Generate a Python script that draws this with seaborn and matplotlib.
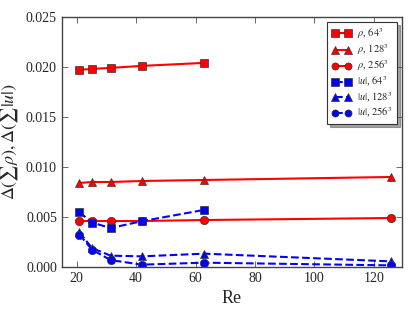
import numpy as np
import pandas as pd
import matplotlib
matplotlib.use("Agg")
import matplotlib.pyplot as plt
import seaborn as sns

# Data
re_all = [20.94, 25.13, 31.42, 41.89, 62.83, 125.66]
re_64 = re_all[:5]

rho_64 = [0.0197, 0.0198, 0.0199, 0.0201, 0.0204]
rho_128 = [0.0084, 0.0085, 0.0085, 0.0086, 0.0087, 0.0090]
rho_256 = [0.0046, 0.0046, 0.0046, 0.0046, 0.0047, 0.0049]
u_64 = [0.00548, 0.00445, 0.0039, 0.00458, 0.00571]
u_128 = [0.00348, 0.0019, 0.00114, 0.00107, 0.00134, 0.00057]
u_256 = [0.00325, 0.00174, 0.0007, 0.00024, 0.00044, 0.00017]

series = [
    (r"$\rho$, $64^3$", re_64, rho_64, "red", "-", "s"),
    (r"$\rho$, $128^3$", re_all, rho_128, "red", "-", "^"),
    (r"$\rho$, $256^3$", re_all, rho_256, "red", "-", "o"),
    (r"$|u|$, $64^3$", re_64, u_64, "blue", "--", "s"),
    (r"$|u|$, $128^3$", re_all, u_128, "blue", "--", "^"),
    (r"$|u|$, $256^3$", re_all, u_256, "blue", "--", "o"),
]

sns.set_style("ticks")
plt.rcParams["font.family"] = ["Liberation Serif", "DejaVu Serif"]
plt.rcParams["mathtext.fontset"] = "stix"
plt.rcParams["xtick.direction"] = "in"
plt.rcParams["ytick.direction"] = "in"

fig = plt.figure(figsize=(4.15, 3.12), dpi=100)
ax = fig.add_axes([0.149, 0.144, 0.820, 0.802])

for label, x, y, color, ls, mk in series:
    df = pd.DataFrame({"Re": x, "val": y})
    sns.lineplot(data=df, x="Re", y="val", ax=ax, color=color, linestyle=ls,
                 marker=mk, markersize=6, markeredgecolor="#333333",
                 markeredgewidth=0.5, linewidth=1.5, label=label)

ax.set_xlim(15, 129.5)
ax.set_ylim(0, 0.025)
ax.set_xticks([20, 40, 60, 80, 100, 120])
ax.set_yticks([0.0, 0.005, 0.010, 0.015, 0.020, 0.025])
ax.yaxis.set_major_formatter(matplotlib.ticker.FormatStrFormatter("%.3f"))
ax.tick_params(top=True, right=True, labelsize=10, length=4, width=0.6,
               color="#555555")
for sp in ax.spines.values():
    sp.set_color("#444444")
    sp.set_linewidth(1.0)

ax.set_xlabel("Re", fontsize=13)
ax.set_ylabel(r"$\Delta(\sum\rho), \Delta(\sum|u|)$", fontsize=13)

leg = ax.legend(loc="upper right", fontsize=7.5, frameon=True, fancybox=False,
                shadow=True, numpoints=2, handlelength=1.9, markerscale=0.85,
                borderaxespad=0.5, labelspacing=0.12, handletextpad=0.6,
                borderpad=0.4)
leg.get_frame().set_edgecolor("#333333")
leg.get_frame().set_linewidth(0.8)

fig.savefig("out.png", dpi=100)
